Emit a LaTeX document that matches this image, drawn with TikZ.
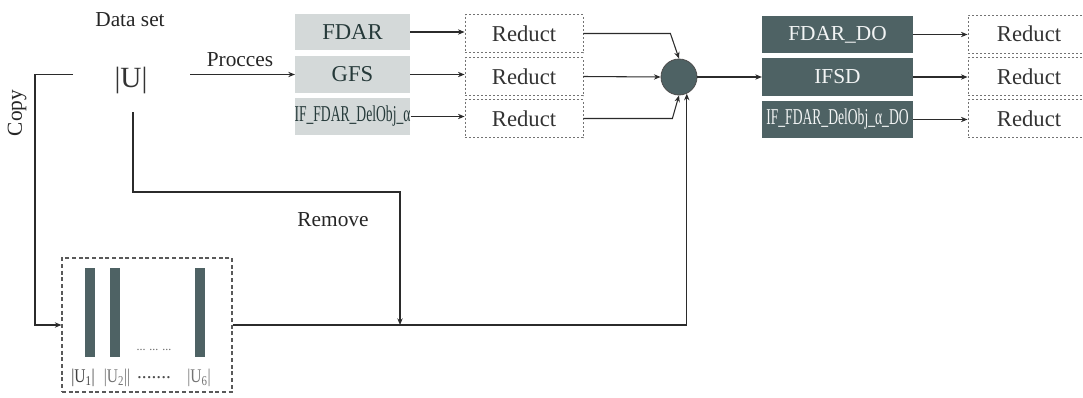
\documentclass[tikz,border=0pt]{standalone}
\usepackage{fontspec}
\setmainfont{Liberation Serif}
\usetikzlibrary{arrows.meta}
\definecolor{lightbox}{HTML}{D4D9D9}
\definecolor{lighttext}{HTML}{263A3A}
\definecolor{darkbox}{HTML}{4E6264}
\definecolor{darktext}{HTML}{F2F4F4}
\definecolor{linec}{HTML}{2B2B2B}
\begin{document}
\begin{tikzpicture}[x=0.75pt,y=-0.75pt,
 lbox/.style={fill=lightbox, text=lighttext, minimum width=86pt, minimum height=27.5pt, inner sep=0pt, font=\fontsize{17}{18}\selectfont},
 dbox/.style={fill=darkbox, text=darktext, minimum width=113pt, minimum height=28pt, inner sep=0pt, font=\fontsize{16}{17}\selectfont},
 rbox/.style={draw=black!55, dash pattern=on 1.5pt off 1.5pt, line width=0.6pt, text=black!80, minimum width=88.5pt, minimum height=28.5pt, inner sep=0pt, font=\fontsize{17}{18}\selectfont},
 ubox/.style={draw=black!65, dash pattern=on 3pt off 2pt, line width=0.8pt, minimum width=127.5pt, minimum height=100.5pt, inner sep=0pt},
 bar/.style={fill=darkbox, minimum width=7.5pt, minimum height=66.75pt, inner sep=0pt},
 circ/.style={circle, fill=darkbox, draw=black!70, line width=0.6pt, minimum size=27pt, inner sep=0pt},
 arr/.style={-{Stealth[length=5pt,width=4pt]}, draw=linec, line width=0.8pt},
 lbl/.style={font=\fontsize{16}{18}\selectfont, text=black!85},
 sub/.style={font=\fontsize{14.5}{15}\selectfont, text=black!75, inner sep=0pt}
]
\clip (0,0) rectangle (1083,397);
\useasboundingbox (0,0) rectangle (1083,397);

% left texts
\node[lbl] (ds) at (130,20) {Data set};
\node[font=\fontsize{22}{24}\selectfont, text=black!80] (U) at (131,80) {|U|};
\node[lbl, rotate=90] (cp) at (17,113) {Copy};
\node[lbl] (pr) at (240,60) {Procces};
\node[lbl] (rmv) at (333,220) {Remove};

% light boxes
\node[lbox] (fdar) at (352.5,32) {FDAR};
\node[lbox] (gfs) at (352.5,74.5) {GFS};
\node[lbox] (iff) at (352.5,116.5) {\scalebox{0.6}[1]{IF\_FDAR\_DelObj\_α}};

% left reducts
\node[rbox] (r1) at (524,33.5) {Reduct};
\node[rbox] (r2) at (524,76.5) {Reduct};
\node[rbox] (r3) at (524,118.5) {Reduct};

% circle
\node[circ] (c) at (679,77) {};

% dark boxes
\node[dbox] (d1) at (837.5,34.5) {FDAR\_DO};
\node[dbox] (d2) at (837.5,77) {IFSD};
\node[dbox] (d3) at (837.5,119.5) {\scalebox{0.6}[1]{\fontsize{17}{18}\selectfont IF\_FDAR\_DelObj\_α\_DO}};

% right reducts
\node[rbox, minimum width=91.5pt] (s1) at (1029,34) {Reduct};
\node[rbox, minimum width=91.5pt] (s2) at (1029,76.5) {Reduct};
\node[rbox, minimum width=91.5pt] (s3) at (1029,118.5) {Reduct};

% bottom box
\node[ubox] (ub) at (147,325) {};
\node[bar] (b1) at (90,312.5) {};
\node[bar] (b2) at (115,312.5) {};
\node[bar] (b6) at (200,312.5) {};
\node[font=\fontsize{9}{10}\selectfont, text=black!60] (dots) at (154,350) {... ... ...};
\node[sub] (u1) at (83,378) {\scalebox{0.8}[1]{|U\textsubscript{1}|}};
\node[sub, text=black!55] (u2) at (117,378) {\scalebox{0.8}[1]{|U\textsubscript{2}||}};
\node[sub, text=black!70] (u3) at (154,378) {.......};
\node[sub, text=black!55] (u6) at (199,378) {\scalebox{0.8}[1]{|U\textsubscript{6}|}};

% connectors
\coordinate (cs) at (73,74.5);
\coordinate (ps) at (190,74.5);
\coordinate (rs) at (133,112);
\coordinate (rm) at (400,325);

\draw[arr] (cs) -- (35,74.5) |- (ub.west);
\draw[arr] (ps) -- (gfs.west);
\draw[arr] (rs) -- (133,192) -| (rm);
\draw[arr] (ub.east) -| (c.-65);

\draw[arr] (fdar.east) -- (r1.west |- fdar.east);
\draw[arr] (gfs.east) -- (r2.west |- gfs.east);
\draw[arr] (iff.east) -- (r3.west |- iff.east);

\draw[arr] (r1.east) -- ++(87,0) -- (c.north);
\draw[arr] (r2.east) -- (c.west);
\draw[arr] (r3.east) -- ++(89,0) -- (c.south);

\draw[arr] (c.east) -- (d2.west);
\draw[arr] (d1.east) -- (s1.west |- d1.east);
\draw[arr] (d2.east) -- (s2.west |- d2.east);
\draw[arr] (d3.east) -- (s3.west |- d3.east);
\end{tikzpicture}
\end{document}
